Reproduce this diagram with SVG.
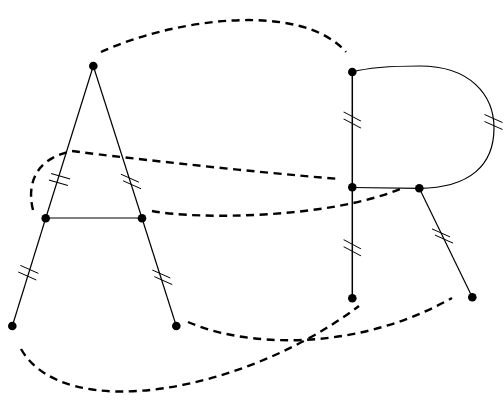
<svg xmlns="http://www.w3.org/2000/svg" xmlns:xlink="http://www.w3.org/1999/xlink" width="504" height="415" viewBox="0 0 504 415">
<style>
.edge{fill:none;stroke:#000;stroke-width:1.2}
.dash{fill:none;stroke:#000;stroke-width:2.4;stroke-dasharray:8 5.5}
.tick{fill:none;stroke:#000;stroke-width:1}
.node{fill:#000}
</style>
<defs>
<path id="tk" class="tick" d="M-9,-4 L9,4"/>
</defs>
<rect width="504" height="415" fill="#fff"/>
<g id="connectors">
<line class="edge" x1="93.3" y1="66" x2="45.7" y2="218.3"/>
<line class="edge" x1="93.3" y1="66" x2="142" y2="218.3"/>
<line class="edge" x1="45.7" y1="218" x2="142" y2="218" stroke="#000" style="stroke-width:1"/>
<line class="edge" x1="45.7" y1="218.3" x2="12.3" y2="326"/>
<line class="edge" x1="142" y1="218.3" x2="176.3" y2="326"/>
<line class="edge" x1="352.3" y1="72" x2="352.3" y2="298.3" style="stroke-width:1.5"/>
<line class="edge" x1="352.3" y1="187.5" x2="419.3" y2="188.3"/>
<line class="edge" x1="419.3" y1="188.3" x2="472.3" y2="297.3"/>
<path class="edge" d="M352.3,72 C370,67 400,66 420,66 C470,66 494,95 494,128 C494,165 470,188 419.3,188.3"/>
<path class="dash" d="M101,52 C170,20 300,0 346,52"/>
<path class="dash" d="M33,210 C28,190 30,160 72,151 C100,155 250,172 340,179"/>
<path class="dash" d="M152,211 C200,220 330,218 400,189"/>
<path class="dash" d="M188,322 C240,345 350,355 452,298"/>
<path class="dash" d="M21,349 C65,425 245,392 359,306"/>
<use xlink:href="#tk" href="#tk" transform="translate(60.6,176.2) rotate(-8)"/>
<use xlink:href="#tk" href="#tk" transform="translate(58.4,182.8) rotate(-8)"/>
<use xlink:href="#tk" href="#tk" transform="translate(129.9,178.2)"/>
<use xlink:href="#tk" href="#tk" transform="translate(132.1,184.8)"/>
<use xlink:href="#tk" href="#tk" transform="translate(29.4,269.4)"/>
<use xlink:href="#tk" href="#tk" transform="translate(27.3,276)"/>
<use xlink:href="#tk" href="#tk" transform="translate(161.3,274)"/>
<use xlink:href="#tk" href="#tk" transform="translate(163.3,280.6)"/>
<use xlink:href="#tk" href="#tk" transform="translate(352.3,116.5) rotate(4)"/>
<use xlink:href="#tk" href="#tk" transform="translate(352.3,123.5) rotate(4)"/>
<use xlink:href="#tk" href="#tk" transform="translate(493.5,118.5)"/>
<use xlink:href="#tk" href="#tk" transform="translate(493.5,125.5)"/>
<use xlink:href="#tk" href="#tk" transform="translate(352.3,244.2) rotate(4)"/>
<use xlink:href="#tk" href="#tk" transform="translate(352.3,251.2) rotate(4)"/>
<use xlink:href="#tk" href="#tk" transform="translate(441,232.9)"/>
<use xlink:href="#tk" href="#tk" transform="translate(444,239.1)"/>
</g>
<g id="n1"><circle class="node" cx="93.3" cy="66" r="4.3"/></g>
<g id="n2"><circle class="node" cx="45.7" cy="218.3" r="4.3"/></g>
<g id="n3"><circle class="node" cx="142" cy="218.3" r="4.3"/></g>
<g id="n4"><circle class="node" cx="12.3" cy="326" r="4.3"/></g>
<g id="n5"><circle class="node" cx="176.3" cy="326" r="4.3"/></g>
<g id="n6"><circle class="node" cx="352.3" cy="72" r="4.3"/></g>
<g id="n7"><circle class="node" cx="352.3" cy="187.3" r="4.3"/></g>
<g id="n8"><circle class="node" cx="419.3" cy="188.3" r="4.3"/></g>
<g id="n9"><circle class="node" cx="352.3" cy="298.3" r="4.3"/></g>
<g id="n10"><circle class="node" cx="472.3" cy="297.3" r="4.3"/></g>
</svg>
